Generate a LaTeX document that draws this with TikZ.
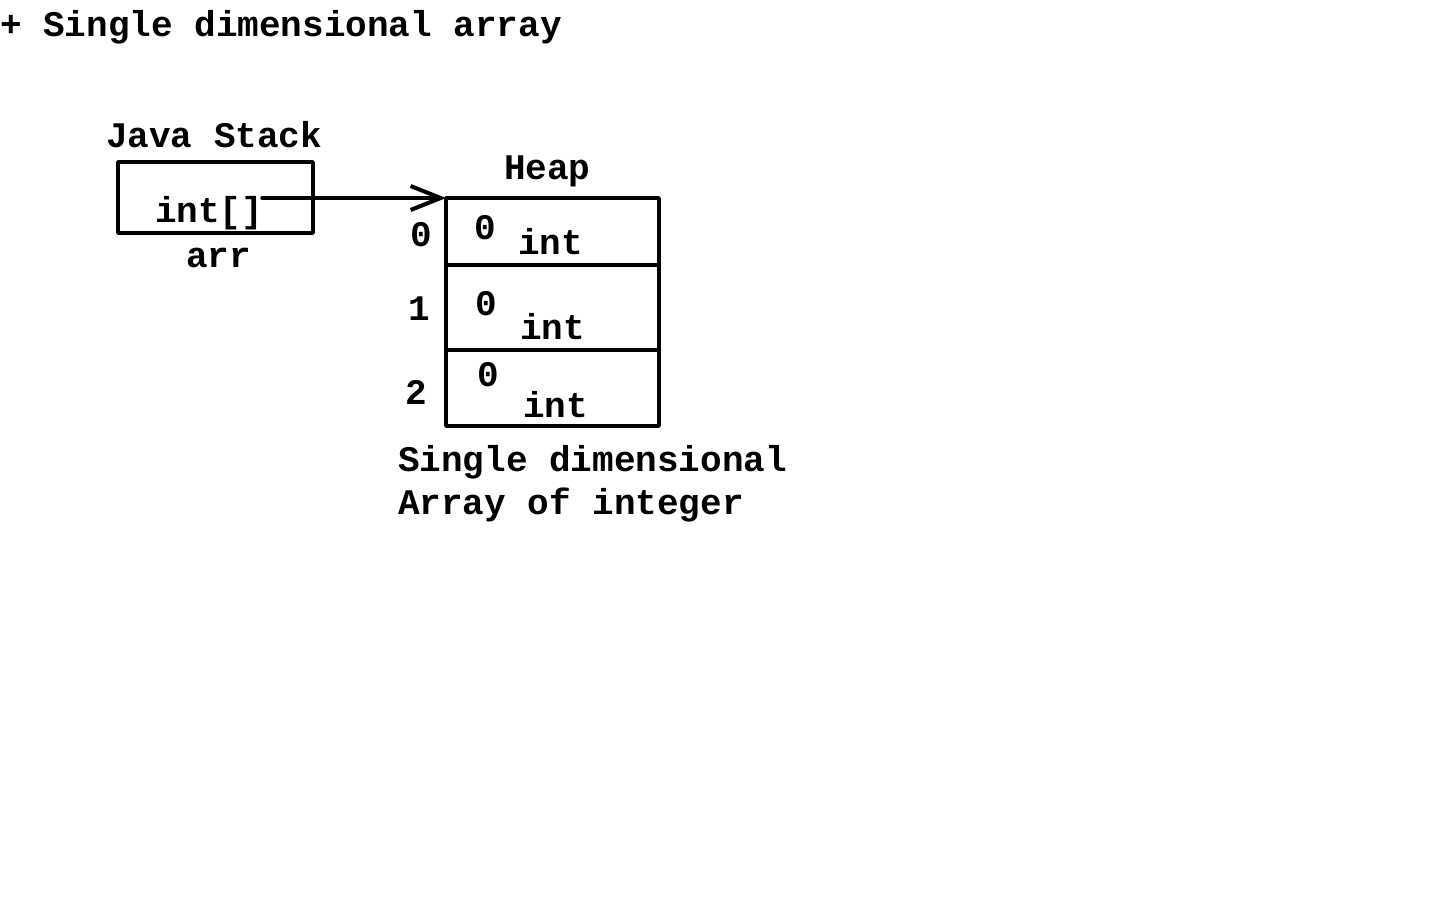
\documentclass[tikz,border=0pt]{standalone}
\usepackage{fontspec}
\setmonofont{Liberation Mono}
\usetikzlibrary{arrows.meta}
\begin{document}
\begin{tikzpicture}[x=0.5pt, y=-0.5pt, line cap=round, line join=round,
    lbl/.style={inner sep=0pt, outer sep=0pt, anchor=base west,
      font=\fontsize{18}{21}\selectfont\ttfamily\bfseries},
    cell/.style={draw, line width=1.75pt, minimum width=106.5pt, inner sep=0pt, outer sep=0pt},
    ref/.style={line width=1.75pt, -{Straight Barb[length=15pt, width=12pt, line width=2pt]}}]
  \useasboundingbox (0,0) rectangle (1440,900);
  \node[lbl] (title) at (0,36) {+ Single dimensional array};
  \node[lbl] (stacklbl) at (106,147) {Java Stack};
  \node[cell, minimum width=97.5pt, minimum height=35.5pt] (stack) at (215.5,197.5) {};
  \node[lbl] (type) at (155,222) {int[]};
  \node[lbl] (var) at (186,267) {arr};
  \node[lbl] (heaplbl) at (504,179) {Heap};
  \node[cell, minimum height=33.5pt, anchor=north west] (c0) at (446,198) {};
  \node[cell, minimum height=42.5pt, anchor=north west] (c1) at (c0.south west) {};
  \node[cell, minimum height=38pt, anchor=north west] (c2) at (c1.south west) {};
  \node[lbl] (i0) at (410,246) {0};
  \node[lbl] (i1) at (408,320) {1};
  \node[lbl] (i2) at (405,404) {2};
  \node[lbl] (v0) at (474,239) {0};
  \node[lbl] (t0) at (518,254) {int};
  \node[lbl] (v1) at (475,315) {0};
  \node[lbl] (t1) at (520,339) {int};
  \node[lbl] (v2) at (477,386) {0};
  \node[lbl] (t2) at (523,417) {int};
  \node[lbl] (cap1) at (398,471) {Single dimensional};
  \node[lbl] (cap2) at (398,514) {Array of integer};
  \coordinate (ptr) at (262,198);
  \draw[ref] (ptr) -- (c0.north west);
\end{tikzpicture}
\end{document}
